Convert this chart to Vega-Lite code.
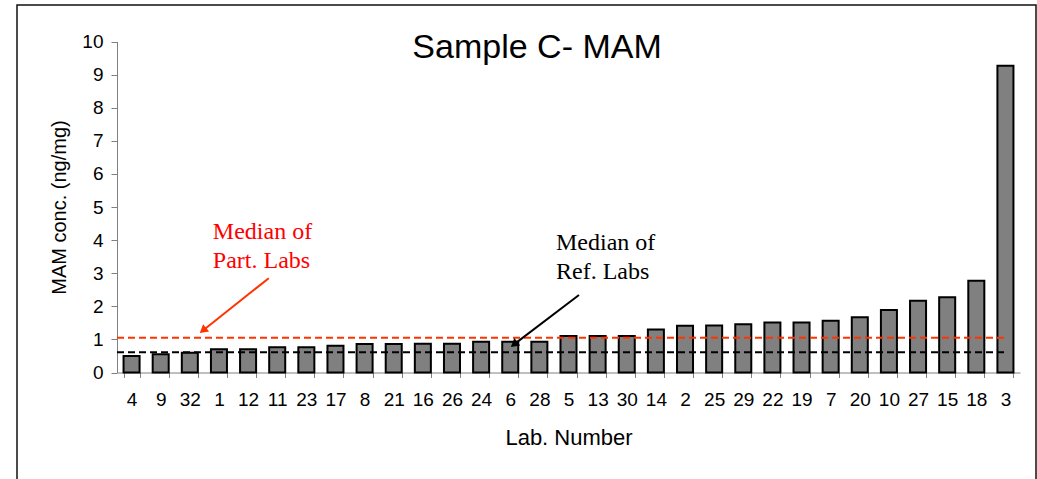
{
  "$schema": "https://vega.github.io/schema/vega-lite/v6.json",
  "width": 1019,
  "height": 480,
  "autosize": {"type": "none"},
  "padding": {"left": 17, "top": 5, "right": 1, "bottom": -6},
  "background": "white",
  "config": {
    "view": {"stroke": "#111111", "strokeWidth": 1.5},
    "font": "Liberation Sans",
    "axis": {"labelColor": "black", "titleColor": "black", "labelFont": "Liberation Sans", "titleFont": "Liberation Sans", "titleFontWeight": "normal", "domainColor": "#808080", "tickColor": "#808080", "grid": false},
    "axisX": {"offset": -112.5, "labelAngle": 0, "labelFontSize": 19, "tickSize": 5, "labelPadding": 13, "titleFontSize": 22, "titlePadding": 18}
  },
  "data": {"values": [
    {"lab": "4", "conc": 0.50}, {"lab": "9", "conc": 0.55}, {"lab": "32", "conc": 0.60}, {"lab": "1", "conc": 0.70},
    {"lab": "12", "conc": 0.70}, {"lab": "11", "conc": 0.76}, {"lab": "23", "conc": 0.76}, {"lab": "17", "conc": 0.81},
    {"lab": "8", "conc": 0.86}, {"lab": "21", "conc": 0.86}, {"lab": "16", "conc": 0.87}, {"lab": "26", "conc": 0.87},
    {"lab": "24", "conc": 0.93}, {"lab": "6", "conc": 0.93}, {"lab": "28", "conc": 0.93}, {"lab": "5", "conc": 1.10},
    {"lab": "13", "conc": 1.10}, {"lab": "30", "conc": 1.10}, {"lab": "14", "conc": 1.30}, {"lab": "2", "conc": 1.41},
    {"lab": "25", "conc": 1.42}, {"lab": "29", "conc": 1.46}, {"lab": "22", "conc": 1.51}, {"lab": "19", "conc": 1.51},
    {"lab": "7", "conc": 1.56}, {"lab": "20", "conc": 1.67}, {"lab": "10", "conc": 1.89}, {"lab": "27", "conc": 2.17},
    {"lab": "15", "conc": 2.27}, {"lab": "18", "conc": 2.77}, {"lab": "3", "conc": 9.27}
  ]},
  "layer": [
    {
      "mark": {"type": "bar", "fill": "#808080", "stroke": "black", "strokeWidth": 2},
      "encoding": {
        "x": {"field": "lab", "type": "nominal", "sort": null, "title": "Lab. Number",
              "scale": {"paddingInner": 0.45, "paddingOuter": 0.225, "range": [100, 1003]},
              "axis": {"tickBand": "extent"}},
        "y": {"field": "conc", "type": "quantitative", "title": "MAM conc. (ng/mg)",
              "scale": {"domain": [0, 10], "nice": false, "range": [367.5, 36.5]},
              "axis": {"values": [0,1,2,3,4,5,6,7,8,9,10], "offset": -100, "labelFontSize": 19, "tickSize": 6, "labelPadding": 8, "titleFontSize": 20, "titlePadding": 12, "labelOverlap": false}}
      }
    },
    {
      "data": {"values": [{"group": "Part. Labs", "median": 1.05}, {"group": "Ref. Labs", "median": 0.61}]},
      "mark": {"type": "rule", "strokeWidth": 2, "strokeDash": [7, 4]},
      "encoding": {
        "x": {"datum": 0, "type": "quantitative", "scale": {"domain": [0, 31], "nice": false, "range": [100, 1003]}, "axis": null},
        "x2": {"datum": 30.5},
        "y": {"field": "median", "type": "quantitative", "axis": null},
        "color": {"field": "group", "type": "nominal", "scale": {"domain": ["Part. Labs", "Ref. Labs"], "range": ["#FF3300", "black"]}, "legend": null}
      }
    },
    {
      "data": {"values": [{"group": "Part. Labs"}]},
      "mark": {"type": "rule", "strokeWidth": 2, "color": "#FF3300"},
      "encoding": {
        "x": {"datum": 5.21, "type": "quantitative", "scale": {"domain": [0, 31], "nice": false, "range": [100, 1003]}, "axis": null},
        "x2": {"datum": 2.95},
        "y": {"datum": 2.85, "type": "quantitative", "axis": null},
        "y2": {"datum": 1.27}
      }
    },
    {
      "data": {"values": [{"group": "Ref. Labs"}]},
      "mark": {"type": "rule", "strokeWidth": 2, "color": "black"},
      "encoding": {
        "x": {"datum": 15.86, "type": "quantitative", "scale": {"domain": [0, 31], "nice": false, "range": [100, 1003]}, "axis": null},
        "x2": {"datum": 13.63},
        "y": {"datum": 2.34, "type": "quantitative", "axis": null},
        "y2": {"datum": 0.85}
      }
    },
    {
      "data": {"values": [{"group": "Part. Labs"}]},
      "mark": {"type": "point", "shape": "triangle-up", "filled": true, "size": 90, "angle": 231, "color": "#FF3300", "opacity": 1},
      "encoding": {
        "x": {"datum": 2.95, "type": "quantitative", "scale": {"domain": [0, 31], "nice": false, "range": [100, 1003]}, "axis": null},
        "y": {"datum": 1.27, "type": "quantitative", "axis": null}
      }
    },
    {
      "data": {"values": [{"group": "Ref. Labs"}]},
      "mark": {"type": "point", "shape": "triangle-up", "filled": true, "size": 90, "angle": 232, "color": "black", "opacity": 1},
      "encoding": {
        "x": {"datum": 13.63, "type": "quantitative", "scale": {"domain": [0, 31], "nice": false, "range": [100, 1003]}, "axis": null},
        "y": {"datum": 0.85, "type": "quantitative", "axis": null}
      }
    },
    {
      "data": {"values": [{"label": "Median of\nPart. Labs", "group": "Part. Labs"}]},
      "mark": {"type": "text", "align": "left", "baseline": "alphabetic", "font": "Liberation Serif", "fontSize": 24, "lineHeight": 29, "lineBreak": "\n", "color": "#FF0000"},
      "encoding": {
        "x": {"datum": 3.29, "type": "quantitative", "scale": {"domain": [0, 31], "nice": false, "range": [100, 1003]}, "axis": null},
        "y": {"datum": 4.03, "type": "quantitative", "axis": null},
        "text": {"field": "label"}
      }
    },
    {
      "data": {"values": [{"label": "Median of\nRef. Labs", "group": "Ref. Labs"}]},
      "mark": {"type": "text", "align": "left", "baseline": "alphabetic", "font": "Liberation Serif", "fontSize": 24, "lineHeight": 29, "lineBreak": "\n", "color": "black"},
      "encoding": {
        "x": {"datum": 15.07, "type": "quantitative", "scale": {"domain": [0, 31], "nice": false, "range": [100, 1003]}, "axis": null},
        "y": {"datum": 3.70, "type": "quantitative", "axis": null},
        "text": {"field": "label"}
      }
    },
    {
      "data": {"values": [{"label": "Sample C- MAM"}]},
      "mark": {"type": "text", "align": "center", "baseline": "alphabetic", "font": "Liberation Sans", "fontSize": 34, "color": "black"},
      "encoding": {
        "x": {"datum": 14.42, "type": "quantitative", "scale": {"domain": [0, 31], "nice": false, "range": [100, 1003]}, "axis": null},
        "y": {"datum": 9.5, "type": "quantitative", "axis": null},
        "text": {"field": "label"}
      }
    }
  ],
  "resolve": {"scale": {"x": "independent"}, "axis": {"y": "independent"}}
}
